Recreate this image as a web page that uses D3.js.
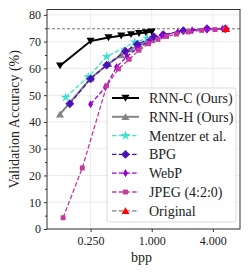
<!DOCTYPE html>
<html><head><meta charset="utf-8">
<script src="https://cdn.jsdelivr.net/npm/d3@7"></script>
<style>body{margin:0;background:#fff}svg{display:block}text{font-family:"Liberation Serif","DejaVu Serif",serif;fill:#222}</style>
</head><body><svg id="c" width="250" height="276"></svg>
<script>
const rnnC_bpp = [0.125, 0.25, 0.375, 0.5, 0.625, 0.75, 0.875, 1.0];
const rnnC_acc = [61.0, 70.2, 71.5, 72.2, 72.7, 73.1, 73.4, 73.7];
const rnnH_bpp = [0.125, 0.25, 0.375, 0.5, 0.625, 0.75, 0.875, 1.0];
const rnnH_acc = [42.9, 56.3, 61.7, 65.0, 67.2, 68.6, 69.8, 70.6];
const mentzer_bpp = [0.142, 0.237, 0.36, 0.68, 0.9];
const mentzer_acc = [49.2, 56.8, 64.4, 69.8, 71.2];
const bpg_bpp = [0.156, 0.25, 0.36, 0.55, 0.72, 1.05, 1.3, 2.05, 3.5, 5.3];
const bpg_acc = [46.8, 56.1, 61.2, 66.4, 69.0, 71.8, 72.6, 74.1, 74.8, 74.8];
const webp_bpp = [0.25, 0.35, 0.45, 0.57, 0.72, 0.95, 1.25, 1.8, 2.5, 3.5, 5.0];
const webp_acc = [46.6, 53.0, 60.5, 64.5, 67.5, 70.3, 72.3, 73.5, 74.2, 74.6, 74.8];
const jpeg_bpp = [0.134, 0.207, 0.36, 0.47, 0.6, 0.75, 0.93, 1.15, 1.4, 1.75, 2.3, 3.1, 4.2, 5.3];
const jpeg_acc = [4.2, 22.8, 53.5, 59.8, 63.4, 66.8, 69.2, 70.8, 71.9, 72.8, 73.6, 74.2, 74.5, 74.8];
const orig_bpp = [5.4];
const orig_acc = [74.8];
const xTicks = [0.25, 1, 4];
const yTicks = [0, 10, 20, 30, 40, 50, 60, 70, 80];

const svg = d3.select("#c");
const L = 47, R = 240, T = 9.5, B = 229;
const x = d3.scaleLog().base(2).domain([0.093, 7.4]).range([L, R]);
const y = d3.scaleLinear().domain([0, 82]).range([B, T]);

// grid
const g = svg.append("g");
g.selectAll(".gx").data(xTicks).enter().append("line")
  .attr("x1", d => x(d)).attr("x2", d => x(d)).attr("y1", T).attr("y2", B)
  .attr("stroke", "#e6e6e6").attr("stroke-width", 0.8);
g.selectAll(".gy").data(yTicks).enter().append("line")
  .attr("x1", L).attr("x2", R).attr("y1", d => y(d)).attr("y2", d => y(d))
  .attr("stroke", "#e6e6e6").attr("stroke-width", 0.8);

// axes
const xAxis = d3.axisBottom(x).tickValues(xTicks).tickFormat(d3.format(".3f")).tickSize(3).tickPadding(4);
const xa = svg.append("g").attr("transform", `translate(0,${B})`).call(xAxis);
const yAxis = d3.axisLeft(y).tickValues(yTicks).tickSize(3).tickPadding(3);
const ya = svg.append("g").attr("transform", `translate(${L},0)`).call(yAxis);
const yMinor = d3.axisLeft(y).tickValues(d3.range(5, 80, 10)).tickSize(2).tickFormat("");
const ym = svg.append("g").attr("transform", `translate(${L},0)`).call(yMinor);
[xa, ya, ym].forEach(a => {
  a.select(".domain").remove();
  a.selectAll("line").attr("stroke", "#333");
  a.selectAll("text").style("font-family", '"Liberation Serif",serif').style("font-size", "12px").attr("fill", "#222");
});

// reference line
svg.append("line").attr("x1", L).attr("x2", R).attr("y1", y(orig_acc[0])).attr("y2", y(orig_acc[0]))
  .attr("stroke", "#555").attr("stroke-width", 0.8).attr("stroke-dasharray", "3,2");

const sym = {
  tdown: d3.symbol().type({draw(ctx, s){const r=Math.sqrt(s)/1.6; ctx.moveTo(-r,-r*0.8); ctx.lineTo(r,-r*0.8); ctx.lineTo(0,r*0.9); ctx.closePath();}}),
  tup: d3.symbol().type({draw(ctx, s){const r=Math.sqrt(s)/1.6; ctx.moveTo(-r,r*0.8); ctx.lineTo(r,r*0.8); ctx.lineTo(0,-r*0.9); ctx.closePath();}}),
  star: d3.symbol().type(d3.symbolStar),
  diamond: d3.symbol().type({draw(ctx, s){const r=Math.sqrt(s)/1.5; ctx.moveTo(0,-r); ctx.lineTo(r,0); ctx.lineTo(0,r); ctx.lineTo(-r,0); ctx.closePath();}}),
  thin: d3.symbol().type({draw(ctx, s){const r=Math.sqrt(s)/1.5; ctx.moveTo(0,-r); ctx.lineTo(r*0.6,0); ctx.lineTo(0,r); ctx.lineTo(-r*0.6,0); ctx.closePath();}}),
  square: d3.symbol().type(d3.symbolSquare)
};

const series = [
  {name: "RNN-C (Ours)", bpp: rnnC_bpp, acc: rnnC_acc, color: "#000", dash: null, w: 2, sym: sym.tdown, size: 42, mcolor: "#000"},
  {name: "RNN-H (Ours)", bpp: rnnH_bpp, acc: rnnH_acc, color: "#858585", dash: null, w: 2, sym: sym.tup, size: 42, mcolor: "#858585"},
  {name: "Mentzer et al.", bpp: mentzer_bpp, acc: mentzer_acc, color: "#40e0d0", dash: "4.5,2.2", w: 1.3, sym: sym.star, size: 30, mcolor: "#40e0d0"},
  {name: "BPG", bpp: bpg_bpp, acc: bpg_acc, color: "#4b12b8", dash: "4.5,2.2", w: 1.3, sym: sym.diamond, size: 44, mcolor: "#4b12b8"},
  {name: "WebP", bpp: webp_bpp, acc: webp_acc, color: "#9400d3", dash: "4.5,2.2", w: 1.3, sym: sym.thin, size: 38, mcolor: "#9400d3"},
  {name: "JPEG (4:2:0)", bpp: jpeg_bpp, acc: jpeg_acc, color: "#c43ba0", dash: "4.5,2.2", w: 1.3, sym: sym.square, size: 24, mcolor: "#c43ba0"}
];

const line = d3.line().x(d => x(d[0])).y(d => y(d[1]));
series.forEach(s => {
  const pts = s.bpp.map((b, i) => [b, s.acc[i]]);
  svg.append("path").attr("d", line(pts)).attr("fill", "none").attr("stroke", s.color)
    .attr("stroke-width", s.w).attr("stroke-dasharray", s.dash);
  svg.selectAll(null).data(pts).enter().append("path")
    .attr("d", s.sym.size(s.size)).attr("transform", d => `translate(${x(d[0])},${y(d[1])})`)
    .attr("fill", s.mcolor);
});
// original marker
svg.selectAll(null).data(orig_bpp.map((b, i) => [b, orig_acc[i]])).enter().append("path")
  .attr("d", sym.tup.size(42)).attr("transform", d => `translate(${x(d[0])},${y(d[1])})`).attr("fill", "#ff0000");

// frame
svg.append("rect").attr("x", L).attr("y", T).attr("width", R - L).attr("height", B - T)
  .attr("fill", "none").attr("stroke", "#333").attr("stroke-width", 1);

// legend
const lx = 107, ly = 88, lw = 129, lh = 134;
const leg = svg.append("g");
leg.append("rect").attr("x", lx).attr("y", ly).attr("width", lw).attr("height", lh).attr("rx", 2)
  .attr("fill", "rgba(255,255,255,0.85)").attr("stroke", "#d0d0d0").attr("stroke-width", 0.8);
const legItems = series.concat([{name: "Original", color: "#808080", dash: "4.5,2.2", w: 1.3, sym: sym.tup, size: 40, mcolor: "#ff0000"}]);
legItems.forEach((s, i) => {
  const yy = 98 + i * 18.8;
  leg.append("line").attr("x1", 112).attr("x2", 139).attr("y1", yy).attr("y2", yy)
    .attr("stroke", s.color).attr("stroke-width", s.w).attr("stroke-dasharray", s.dash);
  leg.append("path").attr("d", s.sym.size(s.size)).attr("transform", `translate(125.5,${yy})`).attr("fill", s.mcolor);
  leg.append("text").attr("x", 149).attr("y", yy).attr("dy", "0.35em").style("font-size", "14px").text(s.name);
});

// axis titles
svg.append("text").attr("x", (L + R) / 2 - 2).attr("y", 262).attr("text-anchor", "middle").style("font-size", "14px").text("bpp");
svg.append("text").attr("transform", `translate(14,${(T + B) / 2}) rotate(-90)`).attr("text-anchor", "middle")
  .attr("dy", "0.35em").style("font-size", "14px").text("Validation Accuracy (%)");
</script></body></html>
